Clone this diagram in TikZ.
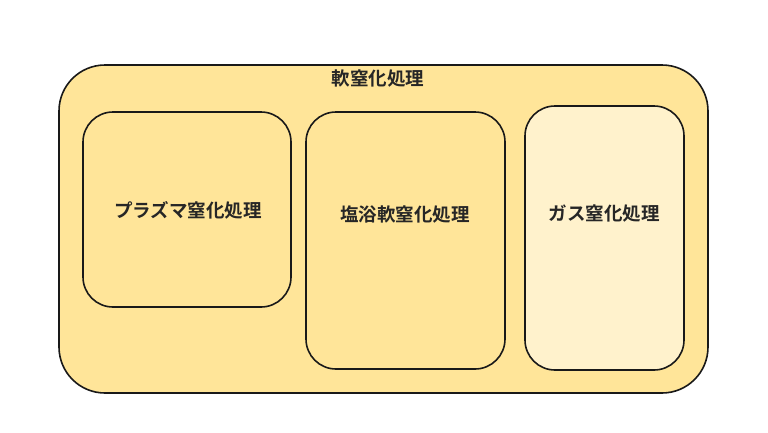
\documentclass[tikz,border=0pt]{standalone}
\usepackage{fontspec}
\newfontfamily\cjk{Noto Sans CJK JP}[BoldFont={Noto Sans CJK JP Bold}]
\definecolor{ybox}{HTML}{FFE599}
\definecolor{lbox}{HTML}{FFF2CC}
\begin{document}
\begin{tikzpicture}[x=1pt,y=-1pt,
  outerbox/.style={draw=black!90,line width=1.6pt,fill=ybox,rounded corners=46pt},
  innerbox/.style={draw=black!90,line width=1.6pt,fill=ybox,rounded corners=30pt},
  lbl/.style={font=\cjk\bfseries\fontsize{18.5}{22}\selectfont,text=black!85,inner sep=0pt}]
\useasboundingbox (0,0) rectangle (768,432);
\fill[white] (0,0) rectangle (768,432);
\draw[outerbox] (59,65) rectangle (708,393);
\node[lbl] (title) at (378,79) {軟窒化処理};
\draw[innerbox] (83,112) rectangle (291,307);
\node[lbl] (plasma) at (188,210) {プラズマ窒化処理};
\draw[innerbox] (306,112) rectangle (505,369);
\node[lbl] (salt) at (405,214) {塩浴軟窒化処理};
\draw[innerbox,fill=lbox] (525,106) rectangle (684,370);
\node[lbl] (gas) at (604,214) {ガス窒化処理};
\end{tikzpicture}
\end{document}
